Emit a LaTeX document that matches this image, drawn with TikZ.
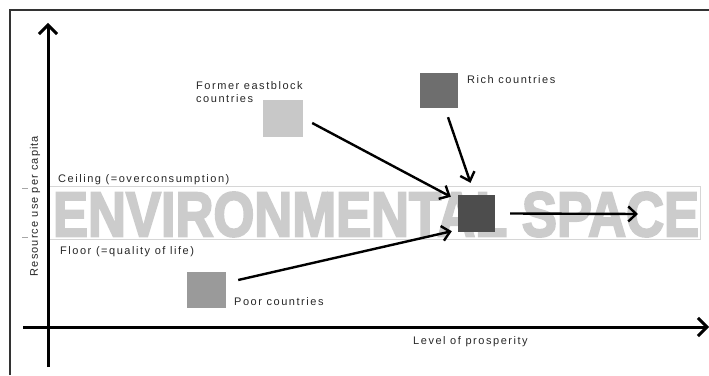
\documentclass[tikz,border=0pt]{standalone}
\usepackage{fontspec}
\setmainfont{Liberation Sans}
\newfontfamily\lblfont[LetterSpace=14]{Liberation Sans}
\newfontfamily\ylblfont[LetterSpace=10]{Liberation Sans}
\newfontfamily\bandfont[FakeBold=3.5]{Liberation Sans Bold}
\usepackage{graphicx}
\usetikzlibrary{arrows.meta}
\definecolor{bandtext}{HTML}{CCCCCC}
\definecolor{bandline}{HTML}{D6D6D6}
\definecolor{sqformer}{HTML}{C8C8C8}
\definecolor{sqrich}{HTML}{6E6E6E}
\definecolor{sqcenter}{HTML}{4D4D4D}
\definecolor{sqpoor}{HTML}{9A9A9A}
\definecolor{framecol}{HTML}{333333}
\tikzset{
  lbl/.style={font=\lblfont\fontsize{11}{13.5}\selectfont, text=black!85, inner sep=0pt},
  ylbl/.style={font=\ylblfont\fontsize{11}{13}\selectfont, text=black!85, inner sep=0pt},
  sq/.style={inner sep=0pt, draw=none},
  axisline/.style={line width=3pt, -{Straight Barb[length=9pt,width=18pt]}},
  flow/.style={line width=2.4pt, -{Straight Barb[length=8pt,width=15pt]}},
}
\begin{document}
\begin{tikzpicture}[x=1pt,y=1pt]
\useasboundingbox (0,0) rectangle (709,375);
% frame
\draw[framecol, line width=1.2pt] (10,0) -- (10,365) -- (709,365);
% band
\draw[bandline, line width=1pt] (48,135) rectangle (700,188);
\node[inner sep=0pt] (band) at (376,160.5) {\color{bandtext}\resizebox{646pt}{44pt}{\bandfont ENVIRONMENTAL SPACE}};
% ticks
\draw[black!35, line width=0.8pt] (22,187) -- (28,187);
\draw[black!35, line width=0.8pt] (22,138) -- (28,138);
% axes
\coordinate (ybot) at (48,8);
\coordinate (ytop) at (48,352);
\coordinate (xleft) at (23,48);
\coordinate (xright) at (709,48);
\draw[axisline] (ybot) -- (ytop);
\draw[axisline] (xleft) -- (xright);
% labels
\node[ylbl, rotate=90] (ylab) at (35,169) {Resource use per capita};
\node[lbl, anchor=west] (xlab) at (413,33) {Level of prosperity};
\node[lbl, anchor=west] (ceil) at (58,195) {Ceiling (=overconsumption)};
\node[lbl, anchor=west] (floor) at (60,123) {Floor (=quality of life)};
% squares
\node[sq, fill=sqformer, minimum width=40pt, minimum height=37pt] (former) at (283,256.5) {};
\node[sq, fill=sqrich, minimum width=38pt, minimum height=35pt] (rich) at (439,284.5) {};
\node[sq, fill=sqcenter, minimum width=37pt, minimum height=37pt] (center) at (476.5,161.5) {};
\node[sq, fill=sqpoor, minimum width=39pt, minimum height=36pt] (poor) at (206.5,85) {};
% square labels
\node[lbl, anchor=north west, align=left] (formerlab) at (196,294) {Former eastblock\\countries};
\node[lbl, anchor=west] (richlab) at (467,295) {Rich countries};
\node[lbl, anchor=west] (poorlab) at (234,73) {Poor countries};
% arrows
\coordinate (spaceend) at (638,161);
\draw[flow] ([shift={(9,-4.5)}]former.east) -- ([shift={(-7,-2)}]center.north west);
\draw[flow] ([shift={(9,-9)}]rich.south) -- ([shift={(-6,12)}]center.north);
\draw[flow] ([shift={(12,10)}]poor.east) -- ([shift={(-6,1)}]center.south west);
\draw[flow] ([shift={(15,0)}]center.east) -- (spaceend);
\end{tikzpicture}
\end{document}
